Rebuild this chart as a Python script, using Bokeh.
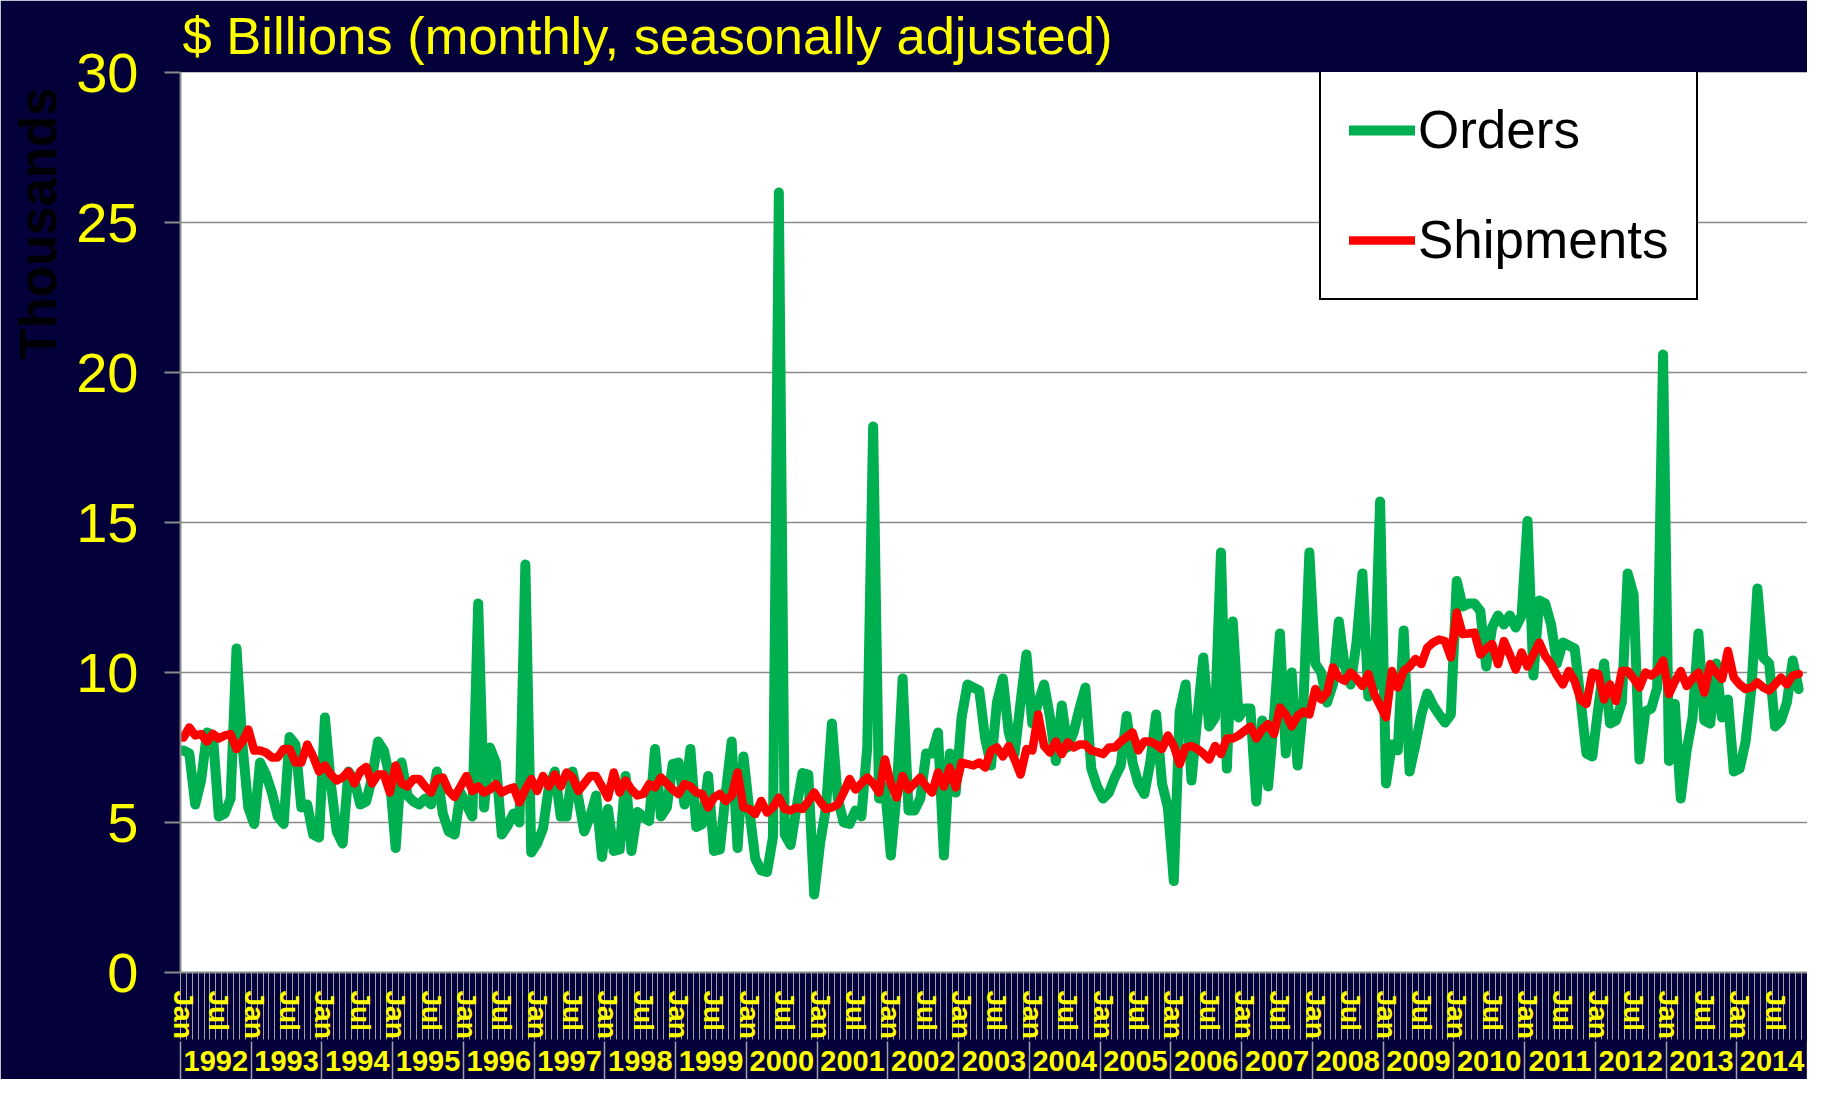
from bokeh.plotting import figure
from bokeh.models import (LinearAxis, FixedTicker, Range1d, Title, Legend,
                          LegendItem)
from bokeh.embed import file_html
from bokeh.resources import INLINE

# ---------------- data ----------------
YEARS = [str(y) for y in range(1992, 2015)]
MONTH_TICK_LABELS = {0: "Jan", 6: "Jul"}
Y_TICKS = [0, 5, 10, 15, 20, 25, 30]

# Monthly orders, Jan 1992 .. Nov 2014 ($ billions)
ORDERS = [
    7.4, 7.3, 5.6, 6.4, 8.0, 7.9, 5.2, 5.3, 5.8, 10.8, 7.6, 5.5,          # 1992
    4.95, 7.0, 6.6, 6.0, 5.2, 4.95, 7.85, 7.6, 5.5, 5.6, 4.6, 4.5,       # 1993
    8.5, 6.3, 4.7, 4.3, 6.7, 6.4, 5.6, 5.7, 6.5, 7.7, 7.4, 6.5,          # 1994
    4.15, 7.0, 5.9, 5.7, 5.6, 5.8, 5.6, 6.7, 5.3, 4.7, 4.6, 6.0,         # 1995
    5.6, 5.2, 12.3, 5.5, 7.5, 7.0, 4.6, 4.9, 5.3, 5.0, 13.6, 4.0,        # 1996
    4.3, 4.8, 6.2, 6.7, 5.2, 5.2, 6.7, 5.8, 4.7, 5.2, 5.9, 3.85,         # 1997
    5.45, 4.05, 4.1, 6.55, 4.05, 5.35, 5.2, 5.05, 7.45, 5.2, 5.5, 6.95,  # 1998
    7.0, 5.6, 7.45, 4.85, 4.95, 6.55, 4.05, 4.1, 6.0, 7.7, 4.15, 7.2,    # 1999
    5.4, 3.8, 3.4, 3.35, 4.5, 26.0, 4.6, 4.25, 5.5, 6.65, 6.6, 2.6,      # 2000
    4.3, 5.5, 8.3, 5.8, 5.0, 4.95, 5.4, 5.2, 7.5, 18.2, 5.8, 6.2,        # 2001
    3.9, 6.0, 9.8, 5.4, 5.4, 5.8, 7.3, 7.3, 8.0, 3.9, 7.3, 6.0,          # 2002
    8.5, 9.6, 9.5, 9.4, 7.8, 6.9, 9.0, 9.8, 8.0, 7.3, 9.0, 10.6,         # 2003
    8.3, 9.0, 9.6, 8.5, 7.05, 8.9, 7.5, 8.0, 8.8, 9.5, 6.8, 6.2,         # 2004
    5.8, 6.0, 6.5, 6.9, 8.55, 7.0, 6.3, 5.95, 7.0, 8.6, 6.3, 5.5,        # 2005
    3.05, 8.7, 9.6, 6.4, 8.5, 10.5, 8.2, 8.5, 14.0, 6.8, 11.7, 8.5,      # 2006
    8.8, 8.8, 5.7, 8.4, 6.2, 8.5, 11.3, 7.3, 10.0, 6.9, 9.0, 14.0,       # 2007
    10.3, 10.0, 9.0, 9.6, 11.7, 10.2, 9.6, 11.0, 13.3, 9.2, 9.5, 15.7,   # 2008
    6.3, 7.6, 7.4, 11.4, 6.7, 7.6, 8.6, 9.3, 8.9, 8.6, 8.33, 8.6,        # 2009
    13.05, 12.2, 12.3, 12.3, 12.05, 10.2, 11.5, 11.9, 11.6, 11.9, 11.5, 11.9,  # 2010
    15.05, 9.9, 12.4, 12.3, 11.6, 10.3, 11.0, 10.9, 10.8, 9.1, 7.3, 7.2,  # 2011
    8.8, 10.3, 8.3, 8.4, 9.0, 13.3, 12.6, 7.1, 8.7, 8.8, 9.5, 20.6,      # 2012
    7.05, 8.95, 5.8, 7.4, 8.5, 11.3, 8.4, 8.3, 10.3, 8.5, 9.1, 6.7,      # 2013
    6.8, 7.7, 9.5, 12.8, 10.5, 10.3, 8.2, 8.4, 9.0, 10.4, 9.45,          # 2014
]

# Monthly shipments, Jan 1992 .. Nov 2014 ($ billions)
SHIPMENTS = [
    7.83, 8.17, 7.9, 7.95, 7.7, 7.95, 7.8, 7.9, 7.95, 7.45, 7.7, 8.1,    # 1992
    7.4, 7.4, 7.33, 7.17, 7.17, 7.45, 7.45, 7.0, 7.0, 7.6, 7.2, 6.7,     # 1993
    6.9, 6.6, 6.4, 6.5, 6.7, 6.3, 6.7, 6.85, 6.3, 6.6, 6.6, 6.0,         # 1994
    6.9, 6.3, 6.2, 6.45, 6.45, 6.2, 6.0, 6.45, 6.5, 6.05, 5.85, 6.2,     # 1995
    6.55, 6.05, 6.2, 6.0, 6.1, 6.28, 6.0, 6.1, 6.17, 5.67, 6.1, 6.45,    # 1996
    6.05, 6.55, 6.2, 6.6, 6.2, 6.67, 6.5, 6.05, 6.3, 6.55, 6.55, 6.2,    # 1997
    5.83, 6.67, 6.0, 6.4, 6.1, 5.9, 5.95, 6.28, 6.17, 6.5, 6.3, 6.1,     # 1998
    5.95, 6.28, 6.2, 6.0, 5.95, 5.5, 5.83, 5.95, 5.72, 5.9, 6.67, 5.5,   # 1999
    5.45, 5.28, 5.72, 5.33, 5.5, 5.83, 5.45, 5.4, 5.5, 5.45, 5.7, 6.0,   # 2000
    5.7, 5.45, 5.5, 5.6, 6.0, 6.45, 6.1, 6.3, 6.5, 6.3, 6.0, 7.1,        # 2001
    6.3, 5.83, 6.55, 6.1, 6.3, 6.5, 6.2, 6.0, 6.67, 6.2, 6.83, 6.17,     # 2002
    7.0, 6.95, 6.9, 7.0, 6.83, 7.4, 7.5, 7.2, 7.55, 7.1, 6.6, 7.45,      # 2003
    7.4, 8.6, 7.55, 7.33, 7.7, 7.28, 7.67, 7.5, 7.6, 7.6, 7.4, 7.35,     # 2004
    7.28, 7.5, 7.5, 7.7, 7.85, 8.0, 7.4, 7.7, 7.7, 7.6, 7.45, 7.9,       # 2005
    7.55, 6.95, 7.5, 7.55, 7.45, 7.3, 7.1, 7.55, 7.28, 7.8, 7.8, 7.9,    # 2006
    8.05, 8.2, 7.8, 8.1, 8.28, 7.95, 8.83, 8.6, 8.2, 8.55, 8.7, 8.6,     # 2007
    9.45, 9.1, 9.33, 10.17, 9.83, 9.72, 10.0, 9.8, 9.55, 9.95, 9.28, 8.9,  # 2008
    8.5, 10.05, 9.5, 10.05, 10.2, 10.45, 10.28, 10.83, 11.0, 11.1, 11.05, 10.5,  # 2009
    12.0, 11.28, 11.3, 11.33, 10.6, 10.8, 10.95, 10.28, 11.05, 10.6, 10.1, 10.67,  # 2010
    10.2, 10.6, 11.0, 10.55, 10.28, 9.9, 9.6, 10.05, 9.72, 9.1, 8.95, 10.0,  # 2011
    9.95, 9.1, 9.6, 9.05, 10.05, 10.05, 9.8, 9.5, 10.0, 9.9, 10.05, 10.4,  # 2012
    9.28, 9.7, 10.05, 9.55, 9.8, 10.0, 9.33, 10.28, 10.0, 9.78, 10.72, 9.83,  # 2013
    9.6, 9.45, 9.5, 9.67, 9.5, 9.4, 9.6, 9.83, 9.6, 9.9, 9.95,          # 2014
]

TITLE = "$ Billions (monthly, seasonally adjusted)"
Y_LABEL = "Thousands"
SERIES_NAMES = ["Orders", "Shipments"]

# ---------------- styling ----------------
NAVY = "#03003a"
YELLOW = "#FFFF00"
GRID = "#8a8a8a"
TICKGRAY = "#a0a0a8"
GREEN = "#00B050"
RED = "#FF0000"
FONT = "Liberation Sans"

n_cat = len(YEARS) * 12
x = list(range(len(ORDERS)))

p = figure(width=1807, height=1079, output_backend="svg", toolbar_location=None,
           x_range=Range1d(-0.5, n_cat - 0.5), y_range=Range1d(0, 30),
           x_axis_type=None,
           min_border_left=177, min_border_right=0, min_border_top=72,
           min_border_bottom=107,
           background_fill_color="white", border_fill_color=NAVY,
           outline_line_color=None)

# y axis
ya = p.yaxis[0]
ya.ticker = FixedTicker(ticks=Y_TICKS)
ya.major_label_text_font = FONT
ya.major_label_text_font_size = "56px"
ya.major_label_text_color = YELLOW
ya.major_tick_out = 16
ya.major_tick_in = 0
ya.major_tick_line_color = GRID
ya.major_tick_line_width = 2
ya.minor_tick_line_color = None
ya.axis_line_color = GRID
ya.axis_line_width = 2
ya.major_label_standoff = 26

p.ygrid.ticker = FixedTicker(ticks=Y_TICKS)
p.ygrid.grid_line_color = GRID
p.ygrid.grid_line_width = 1.5

# month axis (Jan / Jul labels, one tick line per month)
MONTH_TICK_LEN = 67
month_ticks = [i for i in range(n_cat) if (i % 12) in MONTH_TICK_LABELS]
month_over = {i: MONTH_TICK_LABELS[i % 12] for i in month_ticks}
xa = LinearAxis(
    ticker=FixedTicker(ticks=month_ticks,
                       minor_ticks=[i - 0.5 for i in range(n_cat + 1)]),
    major_label_overrides=month_over,
    major_label_orientation="vertical",
    major_label_text_font=FONT, major_label_text_font_size="28px",
    major_label_text_font_style="bold", major_label_text_color=YELLOW,
    major_label_standoff=18 - MONTH_TICK_LEN,
    major_tick_out=0, major_tick_in=0,
    minor_tick_out=MONTH_TICK_LEN, minor_tick_in=0,
    minor_tick_line_color=TICKGRAY, minor_tick_line_width=1,
    axis_line_color=GRID, axis_line_width=2,
)
p.add_layout(xa, "below")

# year axis
YEAR_TICK_LEN = 45
year_ticks = [12 * k + 5.5 for k in range(len(YEARS))]
year_over = {12 * k + 5.5: YEARS[k] for k in range(len(YEARS))}
xb = LinearAxis(
    ticker=FixedTicker(ticks=year_ticks,
                       minor_ticks=[12 * k - 0.5 for k in range(len(YEARS) + 1)]),
    major_label_overrides=year_over,
    major_label_text_font=FONT, major_label_text_font_size="29px",
    major_label_text_font_style="bold", major_label_text_color=YELLOW,
    major_label_standoff=9 - YEAR_TICK_LEN,
    major_tick_out=0, major_tick_in=0,
    minor_tick_out=YEAR_TICK_LEN, minor_tick_in=0,
    minor_tick_line_color=TICKGRAY, minor_tick_line_width=1.5,
    axis_line_color=None,
)
p.add_layout(xb, "below")

# titles
p.add_layout(Title(text=TITLE, align="left", offset=2, text_font=FONT,
                   text_font_size="52.5px", text_font_style="normal",
                   vertical_align="top",
                   text_color=YELLOW, standoff=11), "above")
p.add_layout(Title(text=Y_LABEL, align="right", offset=15, text_font=FONT,
                   text_font_size="51px", text_font_style="bold",
                   text_color="#000000", standoff=14), "left")

# series
g = p.line(x, ORDERS, line_color=GREEN, line_width=10,
           line_join="round", line_cap="round")
r = p.line(x, SHIPMENTS, line_color=RED, line_width=8.5,
           line_join="round", line_cap="round")

legend = Legend(
    items=[LegendItem(label=SERIES_NAMES[0], renderers=[g]),
           LegendItem(label=SERIES_NAMES[1], renderers=[r])],
    location=(1139, 672), orientation="vertical",
    border_line_color="black", border_line_width=2.5, border_line_alpha=1.0,
    background_fill_color="white", background_fill_alpha=1,
    label_text_font=FONT, label_text_font_size="53px",
    label_text_color="black",
    glyph_width=66, glyph_height=60, label_height=60,
    label_standoff=3, padding=28, spacing=49, margin=0,
)
p.add_layout(legend, "center")

open("out.html", "w").write(file_html(p, INLINE))
